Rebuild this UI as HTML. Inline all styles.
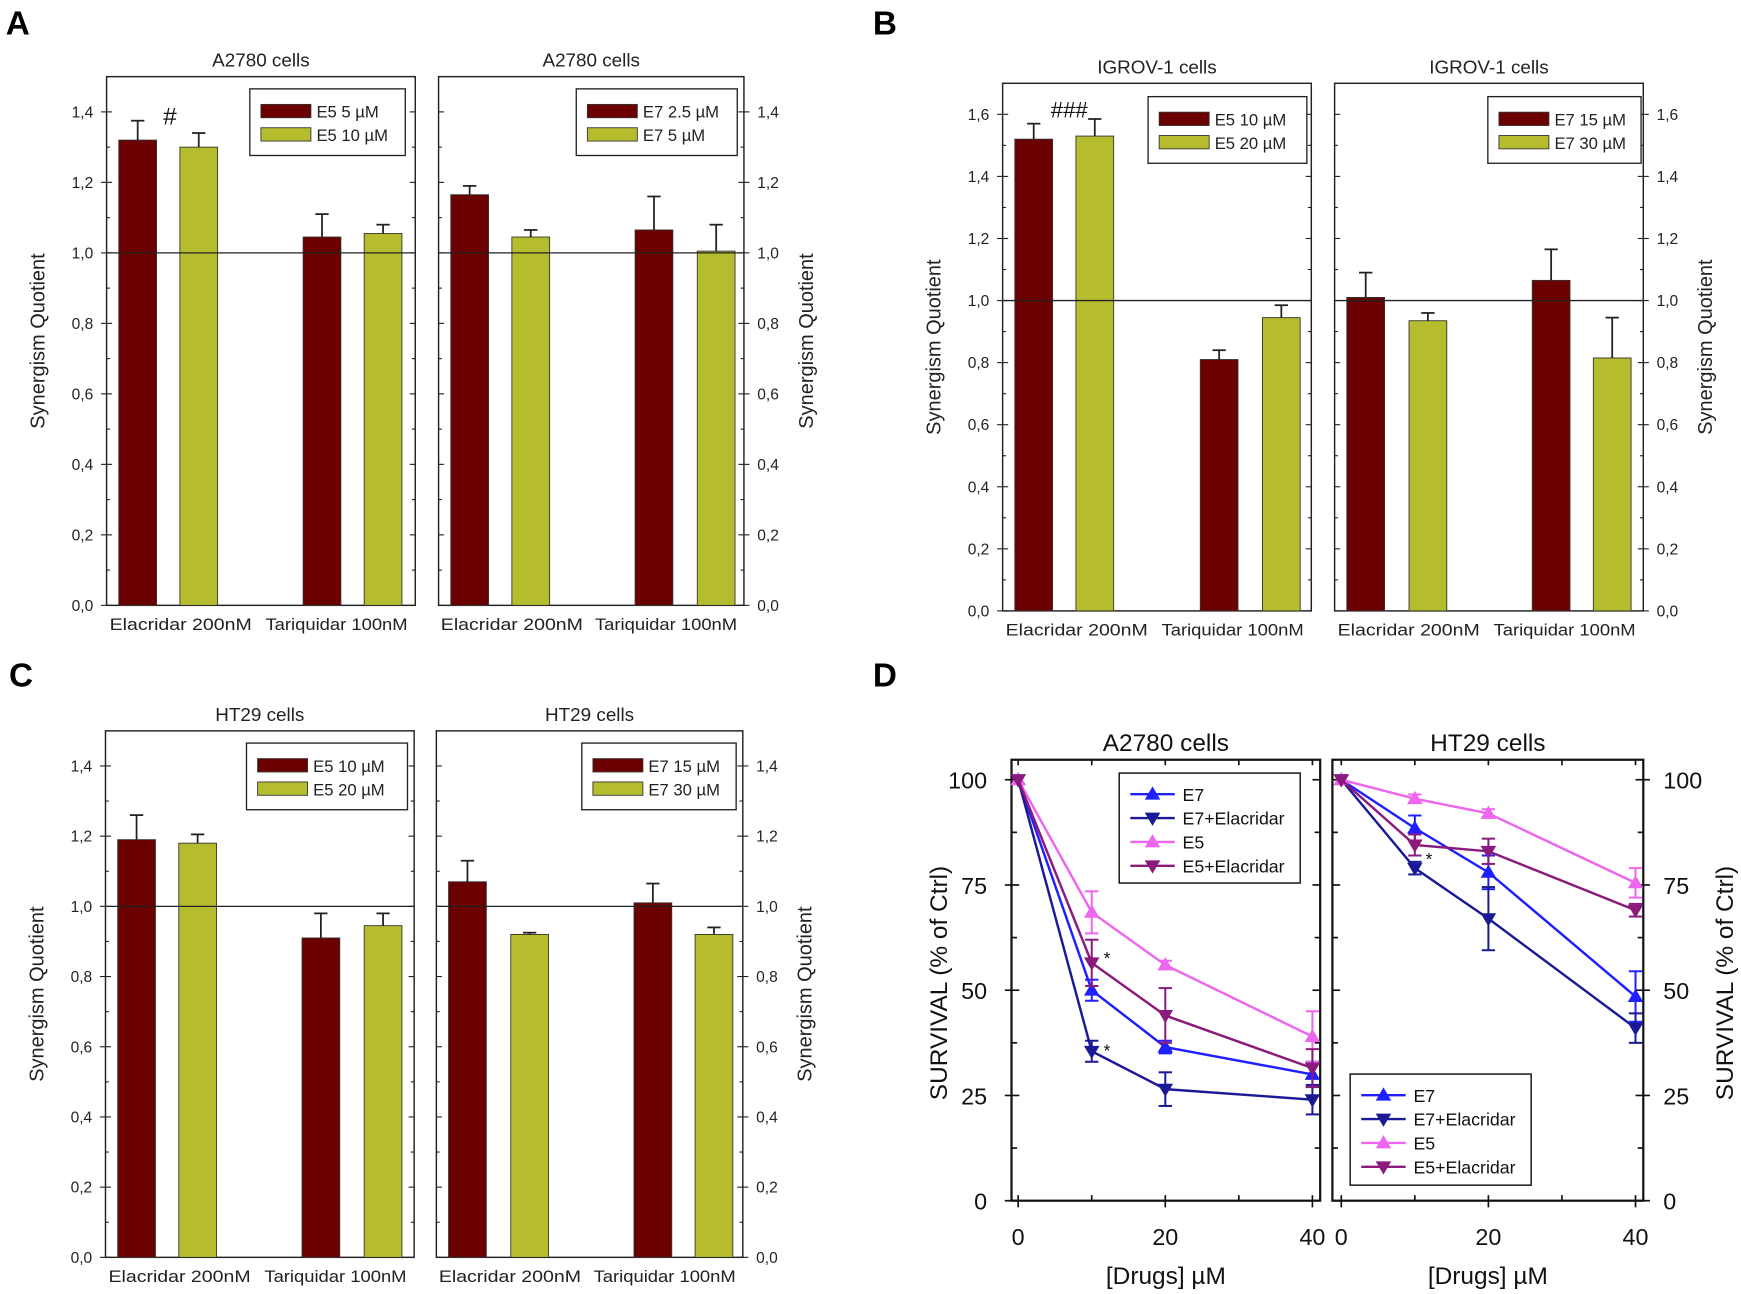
<!DOCTYPE html>
<html><head><meta charset="utf-8"><style>
html,body{margin:0;padding:0;background:#fff}
svg{display:block;font-family:"Liberation Sans",Arial,sans-serif}
</style></head><body>
<svg id="fig" width="1741" height="1294" viewBox="0 0 1568 1165" preserveAspectRatio="none" xmlns="http://www.w3.org/2000/svg"></svg>
<script>
// ---- Data: panels A-C (synergism quotient) ----
const barCategories = ["Elacridar 200nM", "Tariquidar 100nM"];
const aLeftSeries = ["E5 5 µM", "E5 10 µM"];
const aLeftValues = [[1.32, 1.045], [1.30, 1.055]];
const aLeftErrors = [[0.055, 0.065], [0.04, 0.025]];
const aRightSeries = ["E7 2.5 µM", "E7 5 µM"];
const aRightValues = [[1.165, 1.065], [1.045, 1.005]];
const aRightErrors = [[0.025, 0.095], [0.02, 0.075]];
const bLeftSeries = ["E5 10 µM", "E5 20 µM"];
const bLeftValues = [[1.52, 0.81], [1.53, 0.945]];
const bLeftErrors = [[0.05, 0.03], [0.055, 0.04]];
const bRightSeries = ["E7 15 µM", "E7 30 µM"];
const bRightValues = [[1.01, 1.065], [0.935, 0.815]];
const bRightErrors = [[0.08, 0.1], [0.025, 0.13]];
const cLeftSeries = ["E5 10 µM", "E5 20 µM"];
const cLeftValues = [[1.19, 0.91], [1.18, 0.945]];
const cLeftErrors = [[0.07, 0.07], [0.025, 0.035]];
const cRightSeries = ["E7 15 µM", "E7 30 µM"];
const cRightValues = [[1.07, 1.01], [0.92, 0.92]];
const cRightErrors = [[0.06, 0.055], [0.005, 0.02]];
const sqTicksAC = ["0,0","0,2","0,4","0,6","0,8","1,0","1,2","1,4"];
const sqTicksB = ["0,0","0,2","0,4","0,6","0,8","1,0","1,2","1,4","1,6"];
// ---- Data: panel D (survival) ----
const doses = [0, 10, 20, 40];
const lineSeries = ["E7", "E7+Elacridar", "E5", "E5+Elacridar"];
const a2780Values = [[100,50,36.5,30],[100,35.5,26.5,24],[100,68.5,56,39],[100,56.5,44,31.5]];
const a2780Errors = [[0,2.5,1.5,3],[0,2.5,4,3.5],[0,5,1,6],[0,5.5,6.5,4.5]];
const ht29Values = [[100,88.5,78,48.5],[100,79,67,41],[100,95.5,92,75.5],[100,84.5,83,69]];
const ht29Errors = [[0,3,4,6],[0,1.5,7.5,3.5],[0,1,1,3.5],[0,2.5,3,1.5]];
const survTicks = [0, 25, 50, 75, 100];
const doseTicks = [0, 20, 40];

const NS = "http://www.w3.org/2000/svg";
const svg = document.getElementById("fig");
function el(tag, attrs, parent, text){
  const e = document.createElementNS(NS, tag);
  for (const k in attrs) e.setAttribute(k, attrs[k]);
  if (text !== undefined) e.textContent = text;
  (parent || svg).appendChild(e);
  return e;
}
const barColors = ["#6b0000", "#b5bd2e"];
const lineColors = ["#1f1fff", "#1a1a96", "#ee66ee", "#8a1a7c"];

function barPanel(name, x0, x1, yTop, yBot, ymax, side, title, series, values, errors, ticks, legend, barStarts){
  const g = el("g", {});
  
  
  const ys = v => yBot - v / ymax * (yBot - yTop);
  const box = el("rect", {x:x0, y:yTop, width:x1-x0, height:yBot-yTop, fill:"none", stroke:"#222", "stroke-width":1.3}, g);
  
  
  const t = el("text", {x:(x0+x1)/2, y:yTop-9, "text-anchor":"middle", "font-size":17, fill:"#222"}, g, title);
  
  
  ticks.forEach((lab, i) => {
    const v = i * 0.2, y = ys(v);
    el("line", {x1:x0, x2:x0+5, y1:y, y2:y, stroke:"#222"}, g);
    el("line", {x1:x1, x2:x1-5, y1:y, y2:y, stroke:"#222"}, g);
    el("line", {x1:x0, x2:x0+3, y1:ys(v+0.1), y2:ys(v+0.1), stroke:"#222"}, g);
    el("line", {x1:x1, x2:x1-3, y1:ys(v+0.1), y2:ys(v+0.1), stroke:"#222"}, g);
    if (side === "left") {
      el("line", {x1:x0, x2:x0-5, y1:y, y2:y, stroke:"#222"}, g);
      const tl = el("text", {x:x0-12, y:y+5, "text-anchor":"end", "font-size":14, fill:"#222"}, g, lab);
      
      
    } else {
      el("line", {x1:x1, x2:x1+5, y1:y, y2:y, stroke:"#222"}, g);
      const tl = el("text", {x:x1+12, y:y+5, "text-anchor":"start", "font-size":14, fill:"#222"}, g, lab);
      
      
    }
  });
  const ax = side === "left" ? x0-56 : x1+62;
  const yt = el("text", {x:ax, y:(yTop+yBot)/2, "text-anchor":"middle", "font-size":18, fill:"#222", transform:`rotate(-90 ${ax} ${(yTop+yBot)/2})`}, g, "Synergism Quotient");
  
  
  const bw = 34;
  const w = x1 - x0;
  barCategories.forEach((cat, ci) => {
    series.forEach((s, si) => {
      const bx = barStarts[ci*2+si];
      const v = values[si][ci], e = errors[si][ci];
      const r = el("rect", {x:bx, y:ys(v), width:bw, height:yBot-ys(v), fill:barColors[si], stroke:"#333", "stroke-width":0.8}, g);
      
      
      const cx = bx + bw/2;
      el("line", {x1:cx, x2:cx, y1:ys(v), y2:ys(v+e), stroke:"#222", "stroke-width":1.6}, g);
      el("line", {x1:cx-6, x2:cx+6, y1:ys(v+e), y2:ys(v+e), stroke:"#222", "stroke-width":1.6}, g);
    });
    const cx = x0 + w * (ci === 0 ? 0.24 : 0.745);
    const cl = el("text", {x:cx, y:yBot+22, "text-anchor":"middle", "font-size":15, fill:"#222", textLength:128, lengthAdjust:"spacingAndGlyphs"}, g, cat);
    
    
  });
  const ref = el("line", {x1:x0, x2:x1, y1:ys(1), y2:ys(1), stroke:"#222", "stroke-width":1.2}, g);
  
  
  const [lx0, ly0, lx1, ly1] = legend;
  const lg = el("g", {}, g);
  
  
  el("rect", {x:lx0, y:ly0, width:lx1-lx0, height:ly1-ly0, fill:"#fff", stroke:"#222", "stroke-width":1.2}, lg);
  series.forEach((s, si) => {
    const y = ly0 + 20 + si*21;
    const sw = el("rect", {x:lx0+10, y:y-6, width:45, height:12, fill:barColors[si], stroke:"#333", "stroke-width":0.8}, lg);
    
    
    const lt = el("text", {x:lx0+60, y:y+6, "font-size":15, fill:"#222"}, lg, s);
    
    
  });
}

barPanel("panel-a-left", 96, 374, 69, 545, 1.5, "left", "A2780 cells", aLeftSeries, aLeftValues, aLeftErrors, sqTicksAC, [225,80,365,140], [107,162,273,328]);
barPanel("panel-a-right", 395, 670, 69, 545, 1.5, "right", "A2780 cells", aRightSeries, aRightValues, aRightErrors, sqTicksAC, [519,80,664,140], [406,461,572,628]);
barPanel("panel-b-left", 903, 1181, 75, 550, 1.7, "left", "IGROV-1 cells", bLeftSeries, bLeftValues, bLeftErrors, sqTicksB, [1034,87,1177,147], [914,969,1081,1137]);
barPanel("panel-b-right", 1202, 1480, 75, 550, 1.7, "right", "IGROV-1 cells", bRightSeries, bRightValues, bRightErrors, sqTicksB, [1340,87,1478,147], [1213,1269,1380,1435]);
barPanel("panel-c-left", 95, 373, 658, 1132, 1.5, "left", "HT29 cells", cLeftSeries, cLeftValues, cLeftErrors, sqTicksAC, [222,669,367,729], [106,161,272,328]);
barPanel("panel-c-right", 393, 669, 658, 1132, 1.5, "right", "HT29 cells", cRightSeries, cRightValues, cRightErrors, sqTicksAC, [524,669,663,729], [404,460,571,626]);

function marker(g, x, y, up, color){
  const s = 7;
  const pts = up ? `${x},${y-s} ${x-s},${y+s*0.7} ${x+s},${y+s*0.7}` : `${x},${y+s} ${x-s},${y-s*0.7} ${x+s},${y-s*0.7}`;
  const m = el("polygon", {points:pts, fill:color}, g);
  
  
}

function linePanel(name, x0, x1, xz, side, title, values, errors, legend){
  const yTop = 684, yBot = 1081;
  const g = el("g", {});
  
  
  const xs = d => xz + d * 6.625;
  const ys = v => 1081 - v * 3.79;
  const f = el("rect", {x:x0, y:yTop, width:x1-x0, height:yBot-yTop, fill:"none", stroke:"#111", "stroke-width":2}, g);
  
  
  const t = el("text", {x:(x0+x1)/2, y:676, "text-anchor":"middle", "font-size":22, fill:"#111"}, g, title);
  
  
  for (let v = 0; v <= 100; v += 12.5) {
    const major = v % 25 === 0, len = major ? 7 : 5;
    el("line", {x1:x0, x2:x0+len, y1:ys(v), y2:ys(v), stroke:"#111", "stroke-width":1.5}, g);
    el("line", {x1:x1, x2:x1-len, y1:ys(v), y2:ys(v), stroke:"#111", "stroke-width":1.5}, g);
  }
  survTicks.forEach(v => {
    if (side === "left") {
      el("line", {x1:x0, x2:x0-6, y1:ys(v), y2:ys(v), stroke:"#111", "stroke-width":1.5}, g);
      const tl = el("text", {x:x0-22, y:ys(v)+8, "text-anchor":"end", "font-size":21, fill:"#111"}, g, v);
      
      
    } else {
      el("line", {x1:x1, x2:x1+6, y1:ys(v), y2:ys(v), stroke:"#111", "stroke-width":1.5}, g);
      const tl = el("text", {x:x1+18, y:ys(v)+8, "text-anchor":"start", "font-size":21, fill:"#111"}, g, v);
      
      
    }
  });
  [0,10,20,30,40].forEach(d => {
    el("line", {x1:xs(d), x2:xs(d), y1:yBot, y2:yBot-5, stroke:"#111", "stroke-width":1.5}, g);
    el("line", {x1:xs(d), x2:xs(d), y1:yTop, y2:yTop+5, stroke:"#111", "stroke-width":1.5}, g);
  });
  doseTicks.forEach(d => {
    el("line", {x1:xs(d), x2:xs(d), y1:yBot, y2:yBot+6, stroke:"#111", "stroke-width":1.5}, g);
    const tl = el("text", {x:xs(d), y:1121, "text-anchor":"middle", "font-size":21, fill:"#111"}, g, d);
    
    
  });
  const xt = el("text", {x:(x0+x1)/2, y:1156, "text-anchor":"middle", "font-size":22, fill:"#111"}, g, "[Drugs] µM");
  
  
  const ax = side === "left" ? 853 : 1561;
  const yt = el("text", {x:ax, y:885, "text-anchor":"middle", "font-size":22, fill:"#111", transform:`rotate(-90 ${ax} 885)`}, g, "SURVIVAL (% of Ctrl)");
  
  
  values.forEach((ser, si) => {
    const c = lineColors[si];
    const sg = el("g", {}, g);
    
    
    el("polyline", {points: ser.map((v, i) => `${xs(doses[i])},${ys(v)}`).join(" "), fill:"none", stroke:c, "stroke-width":2.2}, sg);
    ser.forEach((v, i) => {
      const e = errors[si][i], x = xs(doses[i]);
      if (e > 0) {
        el("line", {x1:x, x2:x, y1:ys(v-e), y2:ys(v+e), stroke:c, "stroke-width":1.8}, sg);
        el("line", {x1:x-6, x2:x+6, y1:ys(v+e), y2:ys(v+e), stroke:c, "stroke-width":1.8}, sg);
        el("line", {x1:x-6, x2:x+6, y1:ys(v-e), y2:ys(v-e), stroke:c, "stroke-width":1.8}, sg);
      }
      marker(sg, x, ys(v), si % 2 === 0, c);
    });
  });
  const [lx0, ly0, lx1, ly1] = legend;
  const lg = el("g", {}, g);
  
  
  el("rect", {x:lx0, y:ly0, width:lx1-lx0, height:ly1-ly0, fill:"#fff", stroke:"#111", "stroke-width":1.3}, lg);
  lineSeries.forEach((s, si) => {
    const y = ly0 + 19 + si*21.5;
    el("line", {x1:lx0+10, x2:lx0+50, y1:y, y2:y, stroke:lineColors[si], "stroke-width":2.2}, lg);
    marker(lg, lx0+30, y, si % 2 === 0, lineColors[si]);
    const lt = el("text", {x:lx0+57, y:y+6, "font-size":16, fill:"#111"}, lg, s);
    
    
  });
}
linePanel("panel-d-a2780", 911, 1189, 917, "left", "A2780 cells", a2780Values, a2780Errors, [1008,696,1171,795]);
linePanel("panel-d-ht29", 1200, 1480, 1208, "right", "HT29 cells", ht29Values, ht29Errors, [1216,967,1379,1067]);

[["#",153,112,22],["###",963,106,20],["*",997,868,16],["*",997,951,16],["*",1287,779,16]].forEach(a => {
  const t = el("text", {x:a[1], y:a[2], "text-anchor":"middle", "font-size":a[3], fill:"#111"}, svg, a[0]);
  
  
});
[["A",16,31],["B",797,31],["C",19,618],["D",797,618]].forEach(a => {
  const t = el("text", {x:a[1], y:a[2], "text-anchor":"middle", "font-size":30, "font-weight":"bold", fill:"#000"}, svg, a[0]);
  
  
});
</script>
</body></html>
